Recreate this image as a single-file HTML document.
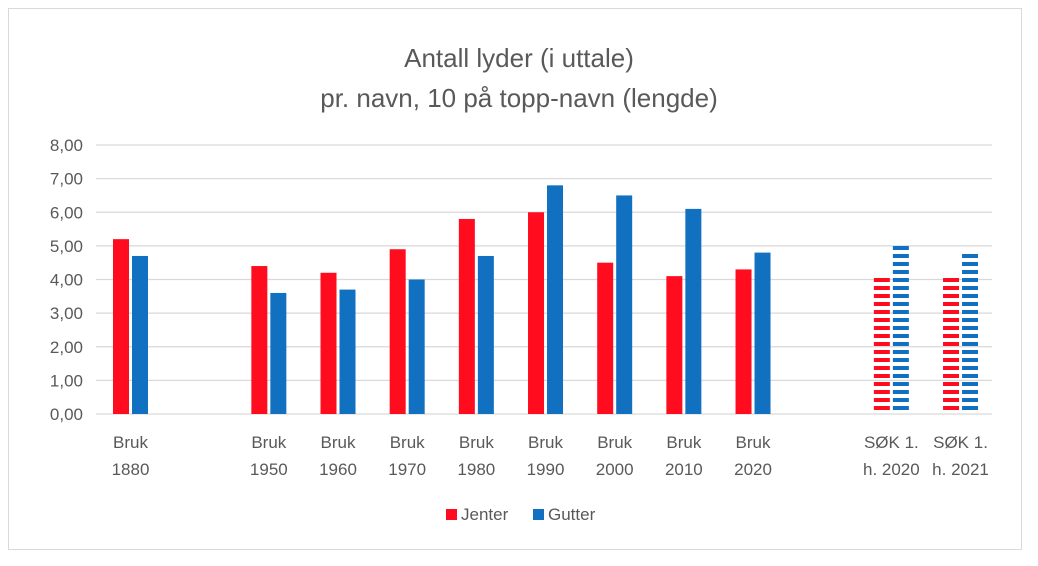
<!DOCTYPE html>
<html><head><meta charset="utf-8"><style>
body{margin:0;background:#fff;}
svg{display:block;font-family:"Liberation Sans",sans-serif;}
</style></head><body>
<svg width="1038" height="566">
<defs>
<pattern id="pr" width="8" height="8" patternUnits="userSpaceOnUse" y="414"><rect width="8" height="4" fill="#ff0d1f"/></pattern>
<pattern id="pb" width="8" height="8" patternUnits="userSpaceOnUse" y="414"><rect width="8" height="4" fill="#1170c0"/></pattern>
</defs>
<rect x="8.5" y="8.5" width="1013" height="541" fill="#fff" stroke="#d9d9d9"/>
<text x="519" y="67" text-anchor="middle" font-size="26" fill="#595959">Antall lyder (i uttale)</text>
<text x="519" y="107" text-anchor="middle" font-size="26" fill="#595959">pr. navn, 10 på topp-navn (lengde)</text>
<g id="grid"></g><g id="bars"></g><g id="xl"></g>
<rect x="446" y="509" width="11" height="11" fill="#ff0d1f"/>
<text x="461" y="520" font-size="17" fill="#595959">Jenter</text>
<rect x="533" y="509" width="11" height="11" fill="#1170c0"/>
<text x="548" y="520" font-size="17" fill="#595959">Gutter</text>
</svg>
<script>
const categories=[["Bruk","1880"],null,["Bruk","1950"],["Bruk","1960"],["Bruk","1970"],["Bruk","1980"],["Bruk","1990"],["Bruk","2000"],["Bruk","2010"],["Bruk","2020"],null,["SØK 1.","h. 2020"],["SØK 1.","h. 2021"]];
const jenter=[5.2,null,4.4,4.2,4.9,5.8,6.0,4.5,4.1,4.3,null,4.1,4.1];
const gutter=[4.7,null,3.6,3.7,4.0,4.7,6.8,6.5,6.1,4.8,null,5.0,4.8];
const striped=[false,false,false,false,false,false,false,false,false,false,false,true,true];
const yTicks=[0,1,2,3,4,5,6,7,8];
const NS="http://www.w3.org/2000/svg";
const y=v=>414-v*33.625;
const xc=i=>130.5+i*69.17;
function mk(tag,attrs,parent){const e=document.createElementNS(NS,tag);for(const k in attrs)e.setAttribute(k,attrs[k]);parent.appendChild(e);return e;}
const G=document.getElementById('grid'),B=document.getElementById('bars'),X=document.getElementById('xl');
yTicks.forEach(t=>{
 const l=mk('line',{x1:96,x2:992,y1:y(t),y2:y(t),stroke:'#d9d9d9','stroke-width':1.3},G);
 
 
 const tx=mk('text',{x:83,y:y(t)+6,'text-anchor':'end','font-size':17,fill:'#595959'},G);
 tx.textContent=t.toFixed(2).replace('.',',');
 
 
});
categories.forEach((c,i)=>{
 if(!c)return;
 const cx=xc(i);
 if(jenter[i]!=null){
  const r=mk('rect',{x:cx-17.5,y:y(jenter[i]),width:16,height:414-y(jenter[i]),fill:striped[i]?'url(#pr)':'#ff0d1f'},B);
  
  
 }
 if(gutter[i]!=null){
  const r=mk('rect',{x:cx+1.5,y:y(gutter[i]),width:16,height:414-y(gutter[i]),fill:striped[i]?'url(#pb)':'#1170c0'},B);
  
  
 }
 c.forEach((s,k)=>{
  const t=mk('text',{x:cx,y:448+k*27,'text-anchor':'middle','font-size':17,fill:'#595959'},X);
  t.textContent=s;
  
  
 });
});
</script>
</body></html>
